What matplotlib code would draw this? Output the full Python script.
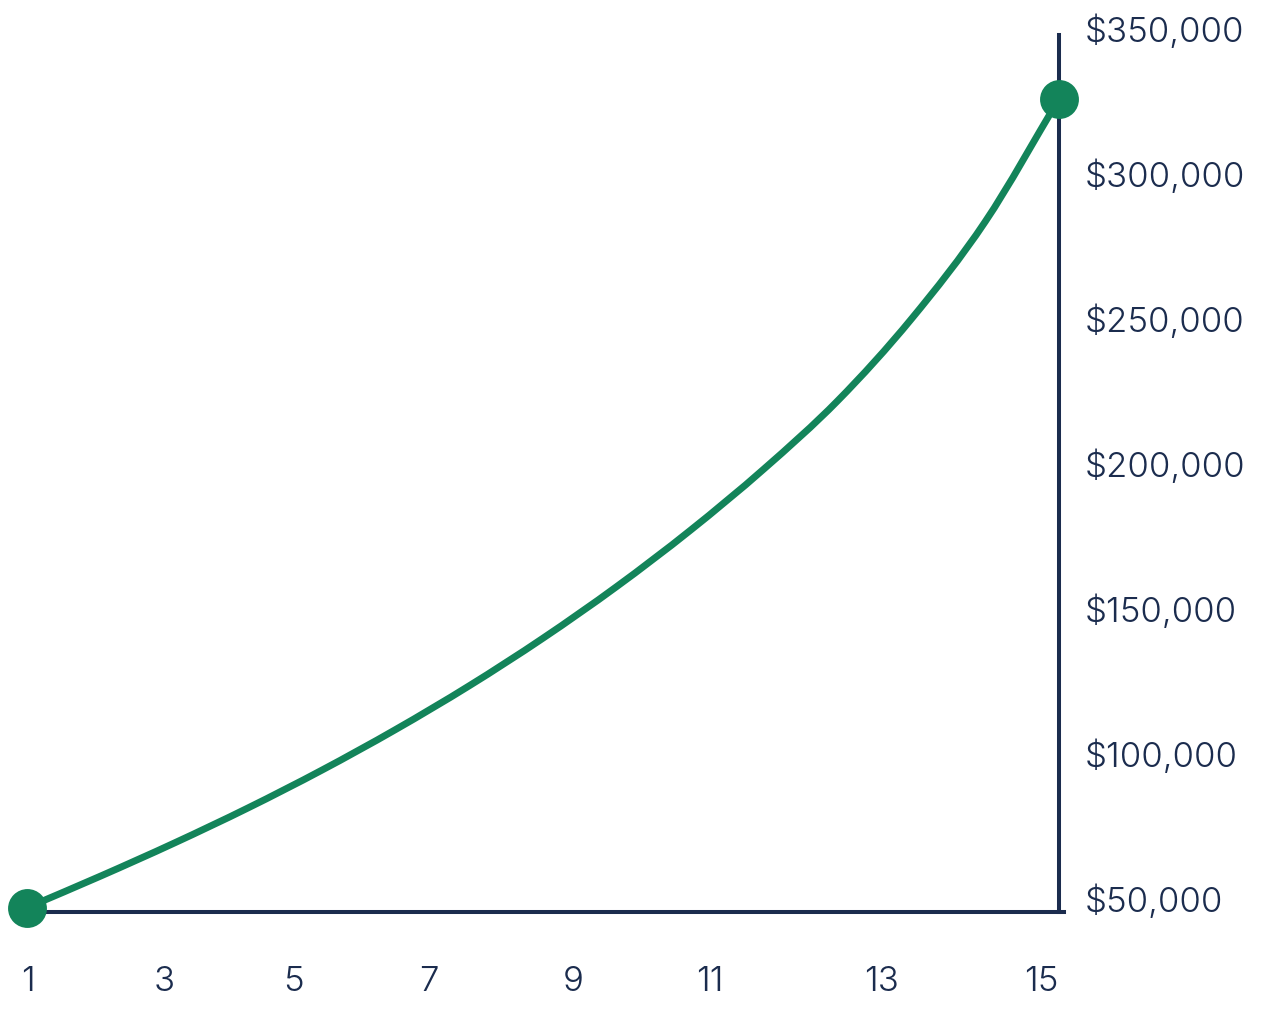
import matplotlib
matplotlib.use("Agg")
import matplotlib.pyplot as plt
from matplotlib.path import Path
from matplotlib.patches import PathPatch
from matplotlib.ticker import FixedLocator

# values (year -> balance in $)
years = [1, 2, 3, 4, 5, 6, 7, 8, 9, 10, 11, 12, 13, 14, 15]
balance = [51500, 62400, 73800, 85900, 98900, 112900, 128000, 144400,
           162200, 181600, 202800, 226300, 254500, 288000, 330300]

x_labels = ['1', '3', '5', '7', '9', '11', '13', '15']
y_ticks = [50000, 100000, 150000, 200000, 250000, 300000, 350000]

# where the year labels sit along the axis in the original artwork
x_label_pos = [1.01, 2.86, 4.62, 6.45, 8.41, 10.27, 12.60, 14.76]

GREEN = '#13845a'
NAVY = '#1b2c4e'
FONT = 'Inter'


def smooth_path(xs, ys):
    """Catmull-Rom through the points, drawn as cubic beziers."""
    pts = list(zip(xs, ys))
    # mirrored phantom points at both ends keep the end tangents natural
    first = (2 * pts[0][0] - pts[1][0], 2 * pts[0][1] - pts[1][1])
    last = (2 * pts[-1][0] - pts[-2][0], 2 * pts[-1][1] - pts[-2][1])
    ext = [first] + pts + [last]
    verts = [pts[0]]
    codes = [Path.MOVETO]
    for i in range(1, len(ext) - 2):
        p0, p1, p2, p3 = ext[i - 1], ext[i], ext[i + 1], ext[i + 2]
        c1 = (p1[0] + (p2[0] - p0[0]) / 6, p1[1] + (p2[1] - p0[1]) / 6)
        c2 = (p2[0] - (p3[0] - p1[0]) / 6, p2[1] - (p3[1] - p1[1]) / 6)
        verts += [c1, c2, p2]
        codes += [Path.CURVE4] * 3
    return Path(verts, codes)


W, H = 1269, 1014
fig = plt.figure(figsize=(W / 100, H / 100), dpi=100)
ax = fig.add_axes([27 / W, 1 - 912 / H, (1064 - 27) / W, (912 - 35) / H])

curve = PathPatch(smooth_path(years, balance), facecolor='none', edgecolor=GREEN,
                  lw=5, capstyle='round', clip_on=False, zorder=3)
ax.add_patch(curve)
ax.plot([years[0], years[-1]], [balance[0], balance[-1]], 'o', color=GREEN,
        ms=28, mec='none', clip_on=False, zorder=4)

ax.set_xlim(1, 15.07)
ax.set_ylim(50000, 352400)

for side in ['top', 'left']:
    ax.spines[side].set_visible(False)
ax.spines['right'].set_position(('data', 15))
for side in ['right', 'bottom']:
    ax.spines[side].set_color(NAVY)
    ax.spines[side].set_linewidth(2.9)

ax.xaxis.set_major_locator(FixedLocator(x_label_pos))
ax.set_xticklabels(x_labels)
ax.yaxis.set_major_locator(FixedLocator(y_ticks))
ax.set_yticklabels([f'${v:,.0f}' for v in y_ticks])
ax.yaxis.tick_right()

ax.tick_params(axis='x', length=0, pad=39, labelsize=25, labelcolor=NAVY)
ax.tick_params(axis='y', length=0, pad=18.5, labelsize=25, labelcolor=NAVY)
for lab in ax.get_xticklabels() + ax.get_yticklabels():
    lab.set_fontfamily(FONT)
    lab.set_fontweight(300)
for lab in ax.get_yticklabels():
    lab.set_verticalalignment('baseline')

fig.savefig('out.png', dpi=100, facecolor='white')
